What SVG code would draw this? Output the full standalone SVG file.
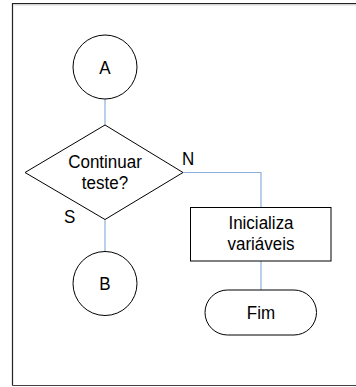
<svg xmlns="http://www.w3.org/2000/svg" width="356" height="387" viewBox="0 0 356 387">
  <style>
    .shape { fill: #ffffff; stroke: #000000; stroke-width: 1; }
    .conn { fill: none; stroke: #8aafdc; stroke-width: 1.2; }
    text { font-family: "Liberation Sans", Arial, sans-serif; font-size: 17px; fill: #000000; text-anchor: middle; }
    .lbl { text-anchor: start; }
  </style>
  <rect width="356" height="387" fill="#ffffff"/>
  <!-- page frame -->
  <path d="M12.5,385.5 V3.5 H360" fill="none" stroke="#222222" stroke-width="1.2"/>
  <path d="M13,4.8 H360" fill="none" stroke="#b0b0b0" stroke-width="0.8"/>
  <path d="M12.5,385.5 H360" fill="none" stroke="#444444" stroke-width="1.2"/>

  <g id="connectors">
    <path class="conn" d="M105,99 V125"/>
    <path class="conn" d="M105,219 V251.5"/>
    <path class="conn" d="M183,172.5 H261 V207.5"/>
    <path class="conn" d="M261,261 V290"/>
  </g>

  <!-- labels are drawn slightly tall: scale(1,1.09) about each baseline -->
  <g id="node-a">
    <circle class="shape" cx="105" cy="67" r="32"/>
    <text transform="translate(105,73.5) scale(1,1.09)">A</text>
  </g>

  <g id="node-decision">
    <polygon class="shape" points="105,125 183,172.5 105,219.5 25,172.5"/>
    <text transform="translate(105,168) scale(1,1.09)">Continuar</text>
    <text transform="translate(105,188.5) scale(1,1.09)">teste?</text>
    <text class="lbl" transform="translate(182,165) scale(1,1.09)">N</text>
    <text class="lbl" transform="translate(64,222.5) scale(1,1.09)">S</text>
  </g>

  <g id="node-b">
    <circle class="shape" cx="105" cy="283.5" r="32"/>
    <text transform="translate(105,289.5) scale(1,1.09)">B</text>
  </g>

  <g id="node-init">
    <rect class="shape" x="190.5" y="207.5" width="140.5" height="53.5"/>
    <text transform="translate(261,228.5) scale(1,1.09)">Inicializa</text>
    <text transform="translate(261,249.5) scale(1,1.09)">variáveis</text>
  </g>

  <g id="node-end">
    <rect class="shape" x="205" y="290" width="111.5" height="45" rx="22.5" ry="22.5"/>
    <text transform="translate(261,318.5) scale(1,1.09)">Fim</text>
  </g>
</svg>
